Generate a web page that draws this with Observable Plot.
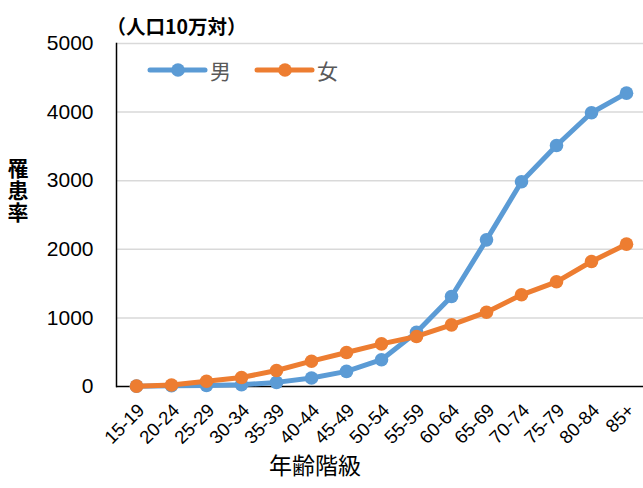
<!DOCTYPE html>
<html>
<head>
<meta charset="utf-8">
<script src="https://cdn.jsdelivr.net/npm/d3@7"></script>
<script src="https://cdn.jsdelivr.net/npm/@observablehq/plot@0.6"></script>
<style>
  html, body { margin: 0; padding: 0; background: #fff; }
  #wrap { position: relative; width: 643px; height: 488px; }
  #legend { position: absolute; left: 0; top: 0; pointer-events: none; }
</style>
</head>
<body>
<div id="wrap"></div>
<script>
const ageGroups = ["15-19","20-24","25-29","30-34","35-39","40-44","45-49","50-54","55-59","60-64","65-69","70-74","75-79","80-84","85+"];
const maleRate   = [5, 10, 15, 25, 60, 123, 220, 390, 790, 1312, 2138, 2984, 3513, 3990, 4276];
const femaleRate = [5, 22, 77, 131, 233, 369, 496, 622, 729, 899, 1083, 1337, 1526, 1822, 2075];
const yTicks = [0, 1000, 2000, 3000, 4000, 5000];
const seriesNames = ["男", "女"];
const seriesColors = ["#5B9BD5", "#ED7D31"];
const yLabel = "罹患率";
const xLabel = "年齢階級";
const unitLabel = "（人口10万対）";

const rows = [];
ageGroups.forEach((a, i) => {
  rows.push({age: a, sex: seriesNames[0], value: maleRate[i]});
});
ageGroups.forEach((a, i) => {
  rows.push({age: a, sex: seriesNames[1], value: femaleRate[i]});
});
const male = rows.filter(d => d.sex === seriesNames[0]);
const female = rows.filter(d => d.sex === seriesNames[1]);

const numFont = "'Liberation Sans', 'Noto Sans CJK JP', sans-serif";
const cjkFont = "'Noto Sans CJK JP', sans-serif";

const chart = Plot.plot({
  width: 643,
  height: 488,
  marginTop: 43,
  marginBottom: 102,
  marginLeft: 116,
  marginRight: 0,
  style: {background: "#fff", color: "#000", fontFamily: numFont},
  x: {type: "point", domain: ageGroups, range: [133, 628], padding: 0, axis: null},
  y: {domain: [0, 5000], axis: null},
  marks: [
    Plot.ruleY(yTicks.filter(t => t > 0), {stroke: "#d9d9d9", strokeWidth: 1.5}),
    Plot.ruleY([0], {stroke: "#000", strokeWidth: 1.5}),
    Plot.frame({anchor: "left", stroke: "#000", strokeWidth: 1.5}),
    Plot.axisY(yTicks, {tickSize: 0, tickPadding: 23, fontSize: 21, label: null, fill: "#000", tickFormat: d => String(d)}),
    Plot.text(ageGroups, {x: d => d, frameAnchor: "bottom", dx: 9, dy: 25, rotate: -45, textAnchor: "end", fontSize: 18.5, fill: "#000"}),
    Plot.line(male, {x: "age", y: "value", stroke: seriesColors[0], strokeWidth: 5, strokeLinejoin: "round", strokeLinecap: "round"}),
    Plot.dot(male, {x: "age", y: "value", r: 6.8, fill: seriesColors[0], stroke: "none"}),
    Plot.line(female, {x: "age", y: "value", stroke: seriesColors[1], strokeWidth: 5, strokeLinejoin: "round", strokeLinecap: "round"}),
    Plot.dot(female, {x: "age", y: "value", r: 6.8, fill: seriesColors[1], stroke: "none"}),
    Plot.text([xLabel], {frameAnchor: "bottom", textAnchor: "middle", dx: -65, dy: 87, fontSize: 23, fill: "#000", fontFamily: cjkFont}),
    Plot.text([unitLabel], {frameAnchor: "top-left", dx: -10, dy: -23, textAnchor: "start", fontSize: 19.5, fill: "#000", fontFamily: cjkFont, fontWeight: "bold"})
  ]
});

const wrap = document.getElementById("wrap");
wrap.appendChild(chart);

// overlay: legend and vertical y-axis title
const ns = "http://www.w3.org/2000/svg";
const leg = document.createElementNS(ns, "svg");
leg.setAttribute("id", "legend");
leg.setAttribute("width", 643);
leg.setAttribute("height", 488);
const legItems = [{x: 150}, {x: 257}];
seriesNames.forEach((name, i) => {
  const x0 = legItems[i].x;
  const line = document.createElementNS(ns, "line");
  line.setAttribute("x1", x0); line.setAttribute("x2", x0 + 55);
  line.setAttribute("y1", 70); line.setAttribute("y2", 70);
  line.setAttribute("stroke", seriesColors[i]); line.setAttribute("stroke-width", 5);
  line.setAttribute("stroke-linecap", "round");
  leg.appendChild(line);
  const c = document.createElementNS(ns, "circle");
  c.setAttribute("cx", x0 + 28); c.setAttribute("cy", 70); c.setAttribute("r", 6.8);
  c.setAttribute("fill", seriesColors[i]);
  leg.appendChild(c);
  const t = document.createElementNS(ns, "text");
  t.setAttribute("x", x0 + 60); t.setAttribute("y", 70);
  t.setAttribute("dominant-baseline", "central");
  t.setAttribute("font-size", 21);
  t.setAttribute("font-family", "'Noto Sans CJK JP', sans-serif");
  t.setAttribute("fill", "#595959");
  t.textContent = name;
  leg.appendChild(t);
});
const yt = document.createElementNS(ns, "text");
yt.setAttribute("x", 18);
yt.setAttribute("y", 191);
yt.setAttribute("text-anchor", "middle");
yt.setAttribute("font-size", 21);
yt.setAttribute("font-weight", "bold");
yt.setAttribute("font-family", "'Noto Sans CJK JP', sans-serif");
yt.setAttribute("fill", "#000");
yt.setAttribute("style", "writing-mode: vertical-rl; text-orientation: upright; letter-spacing: 1px;");
yt.textContent = yLabel;
leg.appendChild(yt);
wrap.appendChild(leg);
</script>
</body>
</html>
